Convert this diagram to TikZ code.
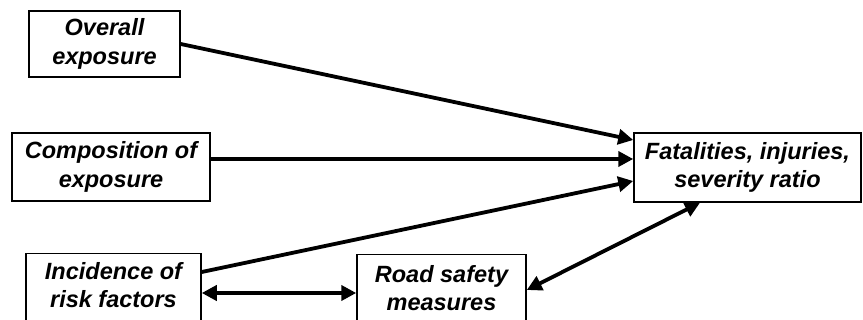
\documentclass[tikz,border=0pt]{standalone}
\usepackage{fontspec}
\setmainfont{Liberation Sans}
\usetikzlibrary{arrows.meta}
\begin{document}
\begin{tikzpicture}[x=1pt,y=-1pt,
  box/.style={draw, line width=1.5pt, rectangle, inner sep=0pt},
  lbl/.style={align=center, inner sep=0pt,
    font=\fontsize{23.5}{28.5}\selectfont\bfseries\itshape},
  link/.style={line width=3.8pt, -{Triangle[length=15pt,width=15pt]}},
  dlink/.style={line width=3.8pt, {Triangle[length=15pt,width=15pt]}-{Triangle[length=15pt,width=15pt]}}
]
\useasboundingbox (0,0) rectangle (863,320);

% Boxes with their texts
\node[box, lbl, minimum width=151pt, minimum height=66pt] (ovr) at (104.5,44) {Overall\\exposure};
\node[box, lbl, minimum width=198pt, minimum height=68pt] (comp) at (111,167) {Composition of\\exposure};
\node[box, lbl, minimum width=227pt, minimum height=69pt] (fat) at (747.5,167.5) {Fatalities, injuries,\\severity ratio};

% Lower boxes run past the bottom edge
\node[box, anchor=north, minimum width=175pt, minimum height=90pt] (inc) at (113.5,253) {};
\node[lbl] (inctxt) at (113.5,285) {Incidence of\\risk factors};
\node[box, anchor=north, minimum width=169pt, minimum height=90pt] (road) at (441.5,254) {};
\node[lbl] (roadtxt) at (441.5,288) {Road safety\\measures};

% Connectors
\draw[link] (ovr.east) -- ([yshift=27.5pt]fat.west);
\draw[link] ([yshift=8pt]comp.east) -- ([yshift=8.5pt]fat.west);
\draw[link] ([yshift=-19pt]inc.north east) -- ([yshift=-13.5pt]fat.west);
\draw[dlink] ([yshift=-40pt]inc.north east) -- ([yshift=-39pt]road.north west);
\draw[dlink] ([yshift=-36pt]road.north east) -- ([xshift=-47.5pt]fat.south);
\end{tikzpicture}
\end{document}
